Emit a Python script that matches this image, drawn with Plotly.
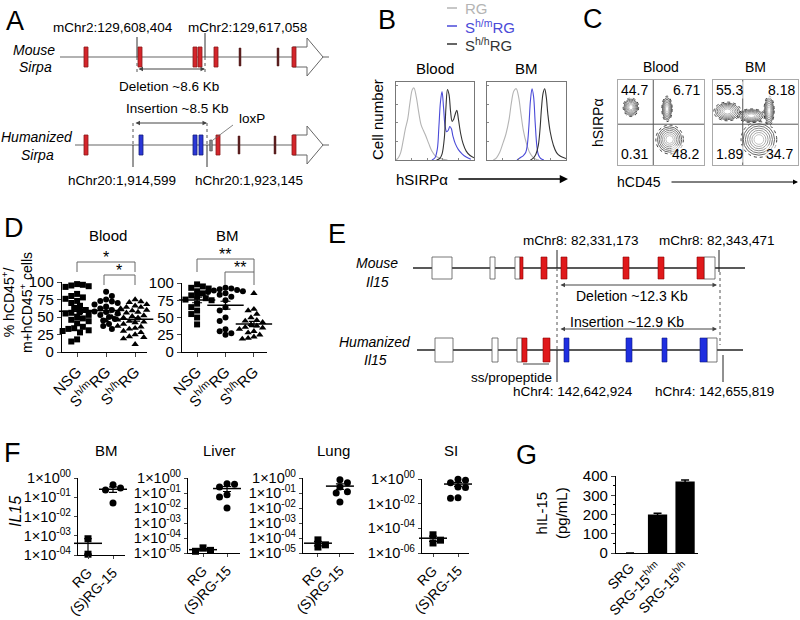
import numpy as np
import plotly.graph_objects as go

W, H = 800, 620
FONT = "Liberation Sans, Arial, sans-serif"

# ---------------- data ----------------
# A: Sirpa locus, exon centres along the schematic (px)
sirpa_mouse_red = [86, 140, 195, 200, 216]
sirpa_mouse_dark = [240, 278]
sirpa_human_red = [86, 218]
sirpa_human_blue = [141, 195, 201]
sirpa_human_dark = [239, 275]
sirpa_loxp = [211]

# B: hSIRPa histograms (x: % of log scale, y: relative count)
b_blood_rg_x = [0, 3, 6, 9, 12, 15, 18, 21, 23, 26, 29, 32, 35, 38, 42, 46, 50, 55, 60, 66]
b_blood_rg_y = [0.0, 0.03, 0.1, 0.25, 0.42, 0.55, 0.78, 0.95, 0.97, 0.85, 0.65, 0.48, 0.4, 0.33, 0.22, 0.12, 0.06, 0.03, 0.01, 0.0]
b_blood_hm_x = [46, 50, 53, 55, 57, 59, 61, 63, 65, 67, 69, 71, 73, 76, 80, 85, 90, 96]
b_blood_hm_y = [0.0, 0.03, 0.15, 0.45, 0.78, 0.92, 0.7, 0.45, 0.38, 0.4, 0.45, 0.42, 0.32, 0.22, 0.14, 0.08, 0.04, 0.01]
b_blood_hh_x = [52, 56, 59, 62, 64, 66, 68, 70, 72, 74, 76, 78, 80, 83, 86, 90, 95, 100]
b_blood_hh_y = [0.0, 0.02, 0.08, 0.3, 0.7, 0.95, 0.88, 0.65, 0.52, 0.55, 0.62, 0.67, 0.55, 0.35, 0.22, 0.12, 0.06, 0.03]
b_bm_rg_x = [8, 12, 16, 20, 24, 28, 31, 34, 37, 40, 43, 46, 50, 54, 58, 62, 66]
b_bm_rg_y = [0.0, 0.03, 0.1, 0.22, 0.35, 0.55, 0.78, 0.93, 0.96, 0.85, 0.62, 0.4, 0.22, 0.1, 0.04, 0.01, 0.0]
b_bm_hm_x = [38, 42, 46, 49, 51, 53, 55, 57, 59, 61, 63, 65, 68, 72]
b_bm_hm_y = [0.0, 0.03, 0.06, 0.1, 0.2, 0.45, 0.8, 0.96, 0.85, 0.5, 0.2, 0.07, 0.02, 0.0]
b_bm_hh_x = [55, 59, 62, 65, 67, 69, 71, 73, 75, 77, 80, 84, 88, 93, 100]
b_bm_hh_y = [0.0, 0.03, 0.08, 0.2, 0.4, 0.7, 0.9, 0.96, 0.85, 0.62, 0.38, 0.2, 0.1, 0.05, 0.02]

# C: flow populations (centre / radius in % of plot), gates and frequencies
c_blood_cx = [15, 57, 60]
c_blood_cy = [68, 66, 30]
c_blood_rx = [9, 6, 16]
c_blood_ry = [11, 15, 17]
c_bm_cx = [17, 66, 54, 45]
c_bm_cy = [63, 64, 30, 58]
c_bm_rx = [16, 6, 21, 16]
c_bm_ry = [11, 17, 21, 8]
c_blood_gate = [41, 48]
c_bm_gate = [35, 48]
c_blood_freq = ["44.7", "6.71", "0.31", "48.2"]
c_bm_freq = ["55.3", "8.18", "1.89", "34.7"]

# D: % hCD45+ chimerism
d_groups = ["NSG", "S<sup>h/m</sup>RG", "S<sup>h/h</sup>RG"]
d_blood_nsg = [97, 96, 95, 94, 93, 83, 80, 78, 76, 73, 70, 66, 63, 60, 58, 56, 55, 53, 50, 48, 46, 44, 41, 36, 34, 33, 31, 30, 28, 18, 15]
d_blood_hm = [86, 80, 75, 73, 72, 70, 68, 65, 62, 60, 58, 57, 55, 53, 50, 47, 45, 40, 37, 33]
d_blood_hh = [75, 72, 71, 68, 66, 64, 64, 62, 60, 59, 57, 56, 55, 54, 52, 51, 50, 49, 49, 48, 47, 46, 45, 44, 43, 42, 40, 39, 37, 36, 34, 33, 30, 28, 25, 22, 21, 19, 11]
d_bm_nsg = [98, 95, 93, 92, 88, 85, 82, 80, 78, 76, 75, 70, 65, 60, 55, 50, 40]
d_bm_hm = [93, 92, 91, 90, 89, 88, 87, 85, 83, 80, 75, 65, 60, 50, 45, 33, 30, 27, 25]
d_bm_hh = [85, 62, 60, 55, 50, 46, 45, 43, 40, 38, 36, 35, 33, 30, 28, 25, 22, 20, 19]

# F: IL15 expression
f_groups = ["RG", "(S)RG-15"]
f_bm_rg = [7e-4, 1.1e-4]
f_bm_srg = [0.45, 0.30, 0.24, 0.05]
f_liver_rg = [2.2e-5, 1.5e-5, 1.3e-5]
f_liver_srg = [0.42, 0.38, 0.25, 0.075, 0.055, 0.01]
f_lung_rg = [7.5e-5, 3.5e-5, 2.5e-5]
f_lung_srg = [0.75, 0.48, 0.25, 0.12, 0.10, 0.025]
f_si_rg = [3e-5, 1.1e-5, 6.5e-6]
f_si_srg = [0.95, 0.8, 0.5, 0.22, 0.2, 0.03, 0.028]

# G: serum hIL-15
g_groups = ["SRG", "SRG-15<sup>h/m</sup>", "SRG-15<sup>h/h</sup>"]
g_values = [0, 200, 372]
g_err = [0, 6, 7]


def xd(a, b):
    return [a / W, b / W]


def yd(top, bot):
    return [1 - bot / H, 1 - top / H]


def swarm(vals, ypx, xpx, d):
    # simple beeswarm: spread overlapping points sideways
    vals = np.asarray(vals, float)
    offs = np.zeros(len(vals))
    placed = []
    for n, i in enumerate(np.argsort(-vals)):
        y = vals[i] * ypx
        step, pos = 0, None
        while pos is None:
            if step == 0:
                cands = [0.0]
            elif n % 2:
                cands = [step * d / 2, -step * d / 2]
            else:
                cands = [-step * d / 2, step * d / 2]
            for c in cands:
                if all((c - ox) ** 2 + (y - oy) ** 2 >= 0.8 * d * d for ox, oy in placed):
                    pos = c
                    break
            step += 1
        placed.append((pos, y))
        offs[i] = pos / xpx
    return offs


fig = go.Figure()
shapes, ann = [], []
lay = {}


def txt(x, y, s, size=14, **kw):
    d = dict(x=x, y=y, xref="x", yref="y", text=s, showarrow=False,
             font=dict(size=size, family=FONT, color=kw.pop("color", "black")))
    d.update(kw)
    ann.append(d)


def line(x0, y0, x1, y1, color="#333", width=1, dash="solid", ref=("x", "y")):
    shapes.append(dict(type="line", x0=x0, y0=y0, x1=x1, y1=y1, xref=ref[0], yref=ref[1],
                       line=dict(color=color, width=width, dash=dash)))


def rect(x0, x1, y0, y1, fill, edge, width=0.8):
    shapes.append(dict(type="rect", x0=x0, x1=x1, y0=y0, y1=y1, xref="x", yref="y",
                       fillcolor=fill, line=dict(color=edge, width=width)))


def darrow(x0, x1, y):
    ann.append(dict(x=x1, y=y, ax=x0, ay=y, xref="x", yref="y", axref="x", ayref="y", text="",
                    showarrow=True, arrowside="end+start", arrowhead=2, arrowsize=0.9,
                    arrowwidth=1, arrowcolor="#444"))


# canvas axis (px units) for schematics and free text
fig.add_trace(go.Scatter(x=[0], y=[0], xaxis="x", yaxis="y", mode="markers",
                         marker=dict(opacity=0), hoverinfo="skip", showlegend=False))
lay["xaxis"] = dict(domain=[0, 1], range=[0, W], visible=False, fixedrange=True, automargin=False)
lay["yaxis"] = dict(domain=[0, 1], range=[H, 0], visible=False, fixedrange=True, automargin=False)

# panel letters
for s, x, y in [("A", 15, 21), ("B", 387, 20), ("C", 593, 19), ("D", 14, 228),
                ("E", 337, 234), ("F", 12, 453), ("G", 526, 455)]:
    txt(x, y, s, size=27)

# ---------------- A ----------------
RED, RED_E, DARK, BLUE, BLUE_E = "#d4252b", "#8b1a1a", "#5a1f1f", "#2a36d6", "#141e7a"
for row, x_start in [(57, 60), (145, 75)]:
    line(x_start, row, 329, row, color="#666", width=1.2)
    shapes.append(dict(type="path", xref="x", yref="y", fillcolor="white",
                       line=dict(color="#666", width=1),
                       path=f"M 293,{row-10} L 307,{row-10} L 307,{row-19} L 323,{row} "
                            f"L 307,{row+19} L 307,{row+10} L 293,{row+10} Z"))
    rect(292, 296, row - 10, row + 10, RED, RED_E)
for c in sirpa_mouse_red:
    rect(c - 2, c + 2, 47, 67, RED, RED_E)
for c in sirpa_mouse_dark:
    rect(c - 1, c + 1, 48, 66, DARK, DARK, 0.5)
for c in sirpa_human_red:
    rect(c - 2, c + 2, 135, 155, RED, RED_E)
for c in sirpa_human_blue:
    rect(c - 2, c + 2, 135, 155, BLUE, BLUE_E)
for c in sirpa_human_dark:
    rect(c - 1, c + 1, 136, 154, DARK, DARK, 0.5)
for c in sirpa_loxp:
    rect(c - 1.3, c + 1.3, 140, 151, "#888", "#444", 0.6)
line(137, 37, 137, 57, "#333")
line(137, 57, 137, 73, "#555", dash="dot")
line(205, 33, 205, 57, "#333")
line(205, 57, 205, 74, "#555", dash="dot")
line(133, 123, 133, 145, "#555", dash="dot")
line(133, 145, 133, 167, "#333")
line(207, 123, 207, 145, "#555", dash="dot")
line(207, 145, 207, 167, "#333")
darrow(137, 205, 69)
darrow(134, 207, 123)
line(213, 140, 233, 125, "#666", width=0.8)
txt(113, 27, "mChr2:129,608,404", 13.5)
txt(247, 27, "mChr2:129,617,058", 13.5)
txt(169, 86, "Deletion ~8.6 Kb", 13.5)
txt(177, 108, "Insertion ~8.5 Kb", 13.5)
txt(237, 118, "loxP", 13.5, xanchor="left")
txt(122, 180, "hChr20:1,914,599", 13.5)
txt(249, 180, "hChr20:1,923,145", 13.5)
txt(34, 50, "<i>Mouse</i>", 14)
txt(35, 67, "<i>Sirpa</i>", 14)
txt(37, 137, "<i>Humanized</i>", 14)
txt(37, 155, "<i>Sirpa</i>", 14)

# ---------------- B ----------------
C_RG, C_HM, C_HH = "#b4b4b4", "#4a4ad8", "#333333"
for y, lab, col in [(8, "RG", C_RG), (26, "S<sup>h/m</sup>RG", C_HM), (44, "S<sup>h/h</sup>RG", C_HH)]:
    line(447, y, 457, y, col, width=1.5)
    txt(463, y, lab, 15, xanchor="left", color=col)
b_sets = [
    (2, (396, 474), "Blood", [(b_blood_rg_x, b_blood_rg_y, C_RG), (b_blood_hm_x, b_blood_hm_y, C_HM),
                               (b_blood_hh_x, b_blood_hh_y, C_HH)]),
    (3, (487, 566), "BM", [(b_bm_rg_x, b_bm_rg_y, C_RG), (b_bm_hm_x, b_bm_hm_y, C_HM),
                            (b_bm_hh_x, b_bm_hh_y, C_HH)]),
]
for k, (x0, x1), title, curves in b_sets:
    for xs, ys, col in curves:
        fig.add_trace(go.Scatter(x=xs, y=ys, xaxis=f"x{k}", yaxis=f"y{k}", mode="lines",
                                 line=dict(color=col, width=1.1, shape="spline"),
                                 showlegend=False, hoverinfo="skip"))
    lay[f"xaxis{k}"] = dict(domain=xd(x0, x1), range=[0, 100], anchor=f"y{k}", showline=True,
                            mirror=True, linecolor="#777", linewidth=1, ticks="inside", ticklen=2,
                            tickcolor="#888", dtick=20, showticklabels=False, showgrid=False,
                            zeroline=False, automargin=False)
    lay[f"yaxis{k}"] = dict(domain=yd(82, 160), range=[0, 1.05], anchor=f"x{k}", showline=True,
                            mirror=True, linecolor="#777", linewidth=1, ticks="inside", ticklen=2,
                            tickcolor="#888", dtick=0.25, showticklabels=False, showgrid=False,
                            zeroline=False, automargin=False)
    txt((x0 + x1) / 2, 68, title, 15)
txt(377, 120, "Cell number", 15, textangle=-90)
txt(422, 179, "hSIRPα", 15)
ann.append(dict(x=568, y=179, ax=457, ay=179, xref="x", yref="y", axref="x", ayref="y", text="",
                showarrow=True, arrowhead=2, arrowsize=1.1, arrowwidth=1.5, arrowcolor="black"))

# ---------------- C ----------------
c_sets = [(4, (618, 704), "Blood", c_blood_cx, c_blood_cy, c_blood_rx, c_blood_ry, c_blood_gate, c_blood_freq),
          (5, (713, 798), "BM", c_bm_cx, c_bm_cy, c_bm_rx, c_bm_ry, c_bm_gate, c_bm_freq)]
ring_cols = ["#2a2a2a", "#555", "#6a6a6a", "#7e7e7e", "#929292", "#a6a6a6", "#bbb"]
for k, (x0, x1), title, cx, cy, rx, ry, gate, freq in c_sets:
    fig.add_trace(go.Scatter(x=[0], y=[0], xaxis=f"x{k}", yaxis=f"y{k}", mode="markers",
                             marker=dict(opacity=0), showlegend=False, hoverinfo="skip"))
    lay[f"xaxis{k}"] = dict(domain=xd(x0, x1), range=[0, 100], anchor=f"y{k}", showline=True,
                            mirror=True, linecolor="#aaa", linewidth=1, showticklabels=False,
                            ticks="", showgrid=False, zeroline=False, automargin=False)
    lay[f"yaxis{k}"] = dict(domain=yd(80, 165), range=[0, 100], anchor=f"x{k}", showline=True,
                            mirror=True, linecolor="#aaa", linewidth=1, showticklabels=False,
                            ticks="", showgrid=False, zeroline=False, automargin=False)
    for px_, py_, sx, sy in zip(cx, cy, rx, ry):
        for i, col in enumerate(ring_cols):
            f = 1 - i / len(ring_cols) * 0.85
            shapes.append(dict(type="circle", xref=f"x{k}", yref=f"y{k}",
                               x0=px_ - sx * f, x1=px_ + sx * f, y0=py_ - sy * f, y1=py_ + sy * f,
                               line=dict(color=col, width=0.9, dash="dot" if i == 0 else "solid")))
    line(gate[0], 0, gate[0], 100, "#555", 1, ref=(f"x{k}", f"y{k}"))
    line(0, gate[1], 100, gate[1], "#555", 1, ref=(f"x{k}", f"y{k}"))
    for (xx, yy, xa), s in zip([(2, 88, "left"), (80, 88, "center"), (2, 13, "left"), (78, 13, "center")], freq):
        ann.append(dict(x=xx, y=yy, xref=f"x{k}", yref=f"y{k}", text=s, showarrow=False, xanchor=xa,
                        font=dict(size=14, family=FONT, color="black"), bgcolor="rgba(255,255,255,0.6)",
                        borderpad=0))
    txt((x0 + x1) / 2, 67, title, 14)
txt(598, 123, "hSIRPα", 14, textangle=-90)
txt(639, 182, "hCD45", 14)
ann.append(dict(x=798, y=182, ax=670, ay=182, xref="x", yref="y", axref="x", ayref="y", text="",
                showarrow=True, arrowhead=2, arrowsize=1, arrowwidth=1, arrowcolor="black"))

# ---------------- D ----------------
d_sets = [(6, (62, 147), (282, 352), [-0.52, 2.41], "Blood", [d_blood_nsg, d_blood_hm, d_blood_hh]),
          (7, (182, 267), (283, 352), [-0.53, 2.46], "BM", [d_bm_nsg, d_bm_hm, d_bm_hh])]
symbols = ["square", "circle", "triangle-up"]
for k, (x0, x1), (t, b), xr, title, groups in d_sets:
    ypx = (b - t) / 100
    xpx = (x1 - x0) / (xr[1] - xr[0])
    for g, (vals, sym) in enumerate(zip(groups, symbols)):
        offs = swarm(vals, ypx, xpx, 5.8)
        fig.add_trace(go.Scatter(x=g + offs, y=vals, xaxis=f"x{k}", yaxis=f"y{k}", mode="markers",
                                 marker=dict(symbol=sym, size=6 if sym != "triangle-up" else 6.5,
                                             color="black", line=dict(width=0)),
                                 cliponaxis=False, showlegend=False, hoverinfo="skip"))
        m = np.mean(vals)
        sem = np.std(vals, ddof=1) / np.sqrt(len(vals))
        fig.add_trace(go.Scatter(x=[g], y=[m], xaxis=f"x{k}", yaxis=f"y{k}", mode="markers",
                                 marker=dict(symbol="line-ew", size=26, line=dict(color="black", width=1.5)),
                                 error_y=dict(type="data", array=[sem], color="black", thickness=1.2, width=5),
                                 cliponaxis=False, showlegend=False, hoverinfo="skip"))
    lay[f"xaxis{k}"] = dict(domain=xd(x0, x1), range=xr, anchor=f"y{k}", showline=True, linecolor="black",
                            linewidth=1.2, ticks="outside", ticklen=4, tickvals=[0, 1, 2], ticktext=d_groups,
                            tickangle=-45, tickfont=dict(size=15, family=FONT, color="black"),
                            showgrid=False, zeroline=False, automargin=False)
    lay[f"yaxis{k}"] = dict(domain=yd(t, b), range=[0, 100], anchor=f"x{k}", showline=True, linecolor="black",
                            linewidth=1.2, ticks="outside", ticklen=4, tickvals=[0, 25, 50, 75, 100],
                            tickfont=dict(size=15, family=FONT, color="black"), showgrid=False,
                            zeroline=False, automargin=False)
    txt((x0 + x1) / 2 + 3, 235, title, 15)
for (a, b_, y, y2, star, sx, sy) in [(77, 135, 262, 272, "*", 106, 257), (104, 135, 275, 285, "*", 119, 270),
                                      (197, 254, 259, 272, "**", 225, 254), (225, 254, 272, 285, "**", 240, 267)]:
    shapes.append(dict(type="path", xref="x", yref="y", path=f"M {a},{y2} L {a},{y} L {b_},{y} L {b_},{y2}",
                       line=dict(color="#666", width=1)))
    txt(sx, sy, star, 16)
txt(17, 303, "% hCD45<sup>+</sup>/<br>m+hCD45<sup>+</sup> cells", 14, textangle=-90)

# ---------------- E ----------------
il15_mouse_white = [(432, 452), (490, 495), (515, 520), (704, 715)]
il15_mouse_red = [(520, 523), (541, 547), (561, 567), (623, 629), (658, 664), (697, 704)]
il15_human_white = [(435, 453), (492, 498), (517, 522), (707, 717)]
il15_human_red = [(522, 527), (543, 550)]
il15_human_blue = [(564, 569), (626, 632), (662, 667), (700, 707)]
line(413, 268, 745, 268, "#222", 1.4)
line(417, 350, 743, 350, "#222", 1.4)
for a, b_ in il15_mouse_white:
    rect(a, b_, 257, 279, "white", "#555")
for a, b_ in il15_mouse_red:
    rect(a, b_, 257, 279, "#e0191b", "#8b0000", 0.6)
for a, b_ in il15_human_white:
    rect(a, b_, 338, 362, "white", "#555")
for a, b_ in il15_human_red:
    rect(a, b_, 338, 362, "#e0191b", "#8b0000", 0.6)
for a, b_ in il15_human_blue:
    rect(a, b_, 338, 362, "#1f2fe0", "#0a1680", 0.6)
line(557, 250, 557, 268, "#222")
line(557, 268, 557, 350, "#555", dash="dot")
line(557, 350, 557, 382, "#222")
line(719, 250, 719, 272, "#222")
line(720, 272, 720, 345, "#555", dash="dot")
line(723, 355, 723, 382, "#222")
darrow(559, 717, 285)
darrow(559, 717, 329)
line(523, 364, 549, 364, "#444")
txt(581, 240, "mChr8: 82,331,173", 13.5)
txt(717, 240, "mChr8: 82,343,471", 13.5)
txt(632, 296, "Deletion ~12.3 Kb", 14)
txt(627, 322, "Insertion ~12.9 Kb", 14)
txt(511, 377, "ss/propeptide", 13.5)
txt(573, 391, "hChr4: 142,642,924", 13.5)
txt(714, 391, "hChr4: 142,655,819", 13.5)
txt(377, 263, "<i>Mouse</i>", 14)
txt(377, 282, "<i>Il15</i>", 14)
txt(375, 342, "<i>Humanized</i>", 14)
txt(375, 360, "<i>Il15</i>", 14)


# ---------------- F ----------------
def sci(e):
    return "1×10<sup>%s</sup>" % ("00" if e == 0 else "-%02d" % (-e))


f_sets = [(8, (78, 125), (478, 555), [-0.4, 1.48], [-4, 0], list(range(0, -5, -1)), "BM", f_bm_rg, f_bm_srg),
          (9, (188, 240), (478, 553), [-0.625, 1.54], [-5, 0], list(range(0, -6, -1)), "Liver", f_liver_rg, f_liver_srg),
          (10, (303, 354), (478, 553), [-0.68, 1.64], [-5, 0], list(range(0, -6, -1)), "Lung", f_lung_rg, f_lung_srg),
          (11, (422, 469), (479, 553), [-0.44, 1.44], [-6, 0], [0, -2, -4, -6], "SI", f_si_rg, f_si_srg)]
for k, (x0, x1), (t, b), xr, yr, exps, title, rg, srg in f_sets:
    ypx = (b - t) / (yr[1] - yr[0])
    xpx = (x1 - x0) / (xr[1] - xr[0])
    for g, (vals, sym) in enumerate([(rg, "square"), (srg, "circle")]):
        offs = swarm(np.log10(vals), ypx, xpx, 7.5)
        fig.add_trace(go.Scatter(x=g + offs, y=vals, xaxis=f"x{k}", yaxis=f"y{k}", mode="markers",
                                 marker=dict(symbol=sym, size=7, color="black", line=dict(width=0)),
                                 cliponaxis=False, showlegend=False, hoverinfo="skip"))
        m = np.mean(vals)
        sem = np.std(vals, ddof=1) / np.sqrt(len(vals))
        fig.add_trace(go.Scatter(x=[g], y=[m], xaxis=f"x{k}", yaxis=f"y{k}", mode="markers",
                                 marker=dict(symbol="line-ew", size=20, line=dict(color="black", width=1.5)),
                                 error_y=dict(type="data", array=[sem], color="black", thickness=1.2, width=4),
                                 cliponaxis=False, showlegend=False, hoverinfo="skip"))
    lay[f"xaxis{k}"] = dict(domain=xd(x0, x1), range=xr, anchor=f"y{k}", showline=True, linecolor="black",
                            linewidth=1.2, ticks="outside", ticklen=3, tickvals=[0, 1], ticktext=f_groups,
                            tickangle=-45, tickfont=dict(size=14, family=FONT, color="black"),
                            showgrid=False, zeroline=False, automargin=False)
    lay[f"yaxis{k}"] = dict(domain=yd(t, b), type="log", range=yr, anchor=f"x{k}", showline=True,
                            linecolor="black", linewidth=1.2, ticks="outside", ticklen=3,
                            tickvals=[10.0 ** e for e in exps], ticktext=[sci(e) for e in exps],
                            tickfont=dict(size=14.5, family=FONT, color="black"), showgrid=False,
                            zeroline=False, automargin=False)
    txt((x0 + x1) / 2 + 5, 450, title, 15)
txt(15, 512, "<i>IL15</i>", 16, textangle=-90)

# ---------------- G ----------------
fig.add_trace(go.Bar(x=[0, 1, 2], y=g_values, xaxis="x12", yaxis="y12", width=0.7,
                     marker=dict(color="black", line=dict(width=0)),
                     error_y=dict(type="data", array=g_err, color="black", thickness=1.5, width=4),
                     showlegend=False, hoverinfo="skip"))
lay["xaxis12"] = dict(domain=xd(616, 698), range=[-0.51, 2.47], anchor="y12", showline=True, linecolor="black",
                      linewidth=1.2, ticks="", tickvals=[0, 1, 2], ticktext=g_groups, tickangle=-45,
                      tickfont=dict(size=14, family=FONT, color="black"), showgrid=False, zeroline=False,
                      automargin=False)
lay["yaxis12"] = dict(domain=yd(476, 553), range=[0, 400], anchor="x12", showline=True, linecolor="black",
                      linewidth=1.2, ticks="outside", ticklen=4, dtick=100,
                      minor=dict(ticks="outside", ticklen=2, dtick=50, tickcolor="black"),
                      tickfont=dict(size=15, family=FONT, color="black"), showgrid=False, zeroline=False,
                      automargin=False)
txt(551, 513, "hIL-15<br>(pg/mL)", 15, textangle=-90)

fig.update_layout(template="none", width=W, height=H, margin=dict(l=0, r=0, t=0, b=0, pad=0),
                  autosize=False, paper_bgcolor="white", plot_bgcolor="rgba(0,0,0,0)", showlegend=False,
                  font=dict(family=FONT, color="black"), shapes=shapes, annotations=ann, **lay)
fig.write_html("out.html", config={"displayModeBar": False},
               post_script="document.body.style.margin='0px';document.body.style.overflow='hidden';")
